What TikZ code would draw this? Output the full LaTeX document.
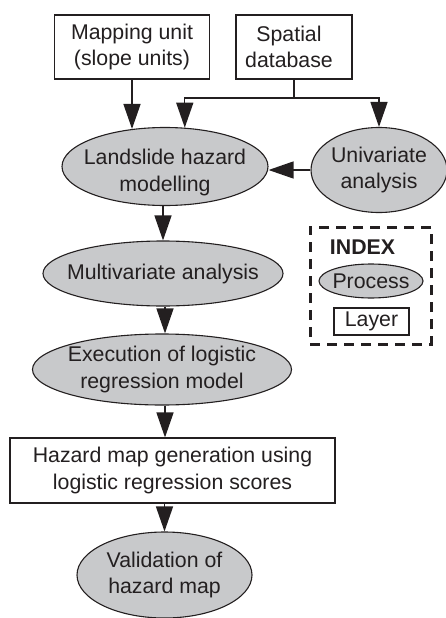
\documentclass[tikz,border=0pt]{standalone}
\usepackage{fontspec}
\setmainfont{Liberation Sans}
\usetikzlibrary{shapes.geometric,arrows.meta}
\definecolor{ink}{RGB}{35,31,32}
\definecolor{procgray}{RGB}{200,201,203}
\tikzset{
  txt/.style={font=\fontsize{21.3pt}{26.5pt}\selectfont, text=ink, align=center, inner sep=0pt},
  proc/.style={ellipse, draw=ink, line width=1.1pt, fill=procgray, inner sep=0pt},
  layer/.style={rectangle, draw=ink, line width=1.1pt, fill=white, inner sep=0pt, txt},
  arr/.style={draw=ink, line width=1.4pt, -{Triangle[length=25pt,width=17pt]}},
  line/.style={draw=ink, line width=1.4pt},
  indexbox/.style={draw=ink, line width=3pt, dash pattern=on 10pt off 7pt}
}
\begin{document}
\begin{tikzpicture}[x=1pt,y=-1pt]
\useasboundingbox (0,0) rectangle (445,618);
% layers
\node[layer, minimum width=155pt, minimum height=64pt] (mapping) at (132,47) {Mapping unit\\(slope units)};
\node[layer, minimum width=116pt, minimum height=64pt] (spatial) at (294,47) {\hspace*{-10pt}Spatial\\\hspace*{-10pt}database};
\node[layer, minimum width=325pt, minimum height=65pt] (hazard) at (172.5,470.5) {Hazard map generation using\\logistic regression scores};
% processes
\node[proc, minimum width=206pt, minimum height=78pt, label={[txt,yshift=-6pt]center:{Landslide hazard\\modelling}}] (landslide) at (165,166.5) {};
\node[proc, minimum width=136pt, minimum height=85pt, label={[txt]center:{Univariate\\analysis}}] (univariate) at (379,170) {};
\node[proc, minimum width=240pt, minimum height=65pt, label={[txt]center:{Multivariate analysis}}] (multivariate) at (163,273.5) {};
\node[proc, minimum width=259pt, minimum height=71pt, label={[txt]center:{Execution of logistic\\regression model}}] (execution) at (162,369.5) {};
\node[proc, minimum width=175pt, minimum height=86pt, label={[txt]center:{Validation of\\hazard map}}] (validation) at (164.5,575) {};
% connectors
\coordinate (fork) at (294,98);
\draw[line] (spatial.south) -- (fork);
\draw[arr] (fork) -| (landslide.63.6);
\draw[arr] (fork) -| (univariate.north);
\draw[arr] (mapping.south) -- (mapping.south |- landslide.131);
\draw[arr] (univariate.west) -- (univariate.west -| landslide.east);
\draw[arr] (landslide.south -| multivariate.north) -- (multivariate.north);
\draw[arr] (multivariate.south -| 165,0) -- (execution.north -| 165,0);
\draw[arr] (execution.south -| 165,0) -- (hazard.north -| 165,0);
\draw[arr] (hazard.south -| validation.north) -- (validation.north);
% index
\node[indexbox, minimum width=121pt, minimum height=117pt, inner sep=0pt] (index) at (370.5,285.5) {};
\node[txt, font=\fontsize{21.3pt}{26.5pt}\selectfont\bfseries] (indextitle) at (362.5,247) {INDEX};
\node[proc, minimum width=104pt, minimum height=34pt, label={[txt]center:{Process}}] (process) at (371,281) {};
\node[layer, minimum width=75pt, minimum height=27pt] (layerkey) at (371.5,321.5) {Layer};
\end{tikzpicture}
\end{document}
